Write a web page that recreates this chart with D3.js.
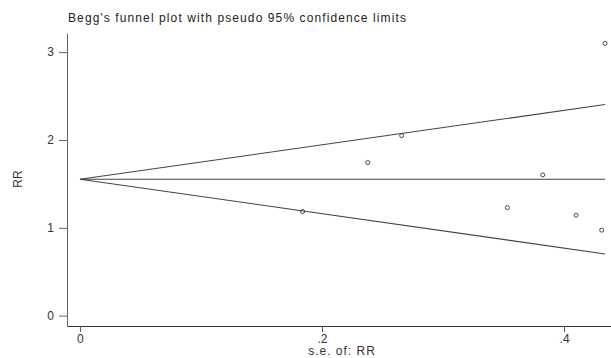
<!DOCTYPE html>
<html><head><meta charset="utf-8">
<script src="https://cdn.jsdelivr.net/npm/d3@7"></script>
<style>body{margin:0;background:#fff}svg{display:block}text{font-family:Arial,"Liberation Sans",sans-serif}</style>
</head><body><svg id="c" width="611" height="358"></svg>
<script>
const title = "Begg's funnel plot with pseudo 95% confidence limits";
const seValues = [0.184, 0.2378, 0.2658, 0.3532, 0.3824, 0.41, 0.4311, 0.4339];
const rrValues = [1.185, 1.743, 2.05, 1.23, 1.603, 1.143, 0.973, 3.10];
const pooledRR = 1.553;
const xTicks = [0, 0.2, 0.4];
const xTickLabels = ["0", ".2", ".4"];
const yTicks = [0, 1, 2, 3];
const yTickLabels = ["0", "1", "2", "3"];

const svg = d3.select("#c");
const x = d3.scaleLinear().domain([-0.0107, 0.4388]).range([67, 611]);
const y = d3.scaleLinear().domain([-0.118, 3.218]).range([326, 33]);

svg.append("text").attr("x", 68).attr("y", 22).attr("font-size", 12).attr("letter-spacing", 1.1)
  .attr("fill", "#222").text(title);

const gy = svg.append("g").attr("transform", "translate(67,0)")
  .call(d3.axisLeft(y).tickValues(yTicks).tickFormat((d, i) => yTickLabels[i]).tickSize(8).tickSizeOuter(0).tickPadding(5));
gy.select(".domain").attr("stroke", "#666");
gy.selectAll(".tick line").attr("stroke", "#666");
gy.selectAll(".tick text").attr("font-size", 12).attr("fill", "#333").attr("font-family", "Arial");

const gx = svg.append("g").attr("transform", "translate(0,326)")
  .call(d3.axisBottom(x).tickValues(xTicks).tickFormat((d, i) => xTickLabels[i]).tickSize(6).tickSizeOuter(0).tickPadding(2));
gx.select(".domain").attr("stroke", "#333");
gx.selectAll(".tick line").attr("stroke", "#555");
gx.selectAll(".tick text").attr("font-size", 12).attr("fill", "#333").attr("font-family", "Arial");

svg.append("text").attr("transform", "translate(22,179) rotate(-90)").attr("text-anchor", "middle")
  .attr("font-size", 12).attr("fill", "#333").text("RR");
svg.append("text").attr("x", 342).attr("y", 355).attr("text-anchor", "middle")
  .attr("font-size", 12).attr("letter-spacing", 1.0).attr("fill", "#333").text("s.e. of: RR");

const seMax = d3.max(seValues);
const lines = [
  [[0, pooledRR], [seMax, pooledRR]],
  [[0, pooledRR], [seMax, pooledRR + 1.96 * seMax]],
  [[0, pooledRR], [seMax, pooledRR - 1.96 * seMax]]
];
const line = d3.line().x(d => x(d[0])).y(d => y(d[1]));
svg.selectAll("path.fl").data(lines).join("path").attr("class", "fl")
  .attr("d", line).attr("fill", "none").attr("stroke", "#444").attr("stroke-width", 1.1);

svg.selectAll("circle").data(seValues.map((s, i) => [s, rrValues[i]])).join("circle")
  .attr("cx", d => x(d[0])).attr("cy", d => y(d[1])).attr("r", 2)
  .attr("fill", "none").attr("stroke", "#333").attr("stroke-width", 0.9);
</script></body></html>
